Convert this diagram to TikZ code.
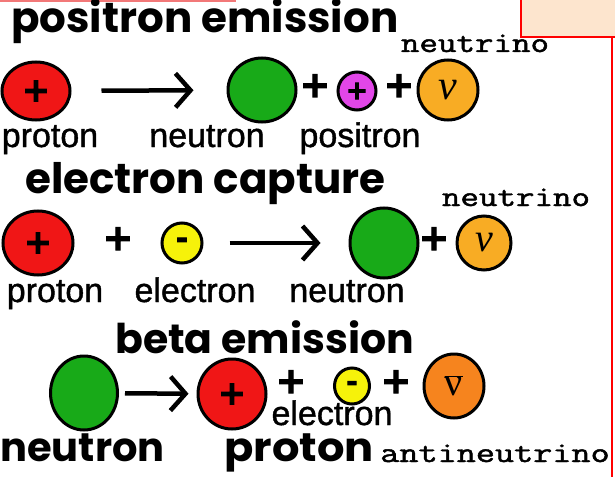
\documentclass[tikz,border=0pt]{standalone}
\usepackage{fontspec}
\setmainfont{Liberation Sans}
\newfontfamily\headfont{Poppins}
\newfontfamily\labelfont{Liberation Sans}[FakeBold=1.2]
\newfontfamily\opfont{DejaVu Sans}[FakeBold=3]
\newfontfamily\greekfont{Liberation Serif}
\newfontfamily\courierfont{Latin Modern Mono}[FakeBold=1.5]
\usetikzlibrary{shapes.geometric,arrows.meta}

\definecolor{protonred}{RGB}{240,22,22}
\definecolor{neutrongreen}{RGB}{24,170,24}
\definecolor{positronpink}{RGB}{226,70,232}
\definecolor{electronyellow}{RGB}{246,242,10}
\definecolor{nuorange}{RGB}{248,172,36}
\definecolor{antinuorange}{RGB}{246,132,30}
\definecolor{boxpeach}{RGB}{253,229,206}
\definecolor{topline}{RGB}{242,120,120}

\begin{document}
\begin{tikzpicture}[x=1pt,y=-1pt,
  particle/.style={ellipse,draw=black,line width=3pt,inner sep=0pt},
  ttl/.style={anchor=base west,inner sep=0pt,font=\headfont\bfseries\fontsize{42}{46}\selectfont},
  lbl/.style={anchor=base,inner sep=0pt,font=\labelfont\fontsize{34}{38}\selectfont},
  bigl/.style={anchor=base west,inner sep=0pt,font=\headfont\bfseries\fontsize{40}{44}\selectfont},
  mono/.style={anchor=base,inner sep=0pt,font=\courierfont\fontsize{29}{32}\selectfont},
  op/.style={inner sep=0pt,text height=14pt,text depth=0pt,font=\opfont\bfseries\fontsize{36}{36}\selectfont},
  charge/.style={font=\opfont\bfseries\fontsize{#1}{#1}\selectfont},
  reaction/.style={line width=4.5pt,-{Straight Barb[length=15pt,width=34pt,line width=4.5pt]}}]
\useasboundingbox (0,0) rectangle (615,476);

% frame bits
\draw[topline,line width=2pt] (0,1) -- (236,1);
\draw[red,fill=boxpeach,line width=1.5pt] (521,-3) rectangle (620,37);
\draw[red,line width=2pt] (612,37) -- (612,480);

% positron emission
\node[ttl] (t1) at (11,33) {positron emission};
\node[particle,fill=protonred,minimum width=68,minimum height=58,charge=33] (p1) at (36,91) {+};
\node[particle,fill=neutrongreen,minimum width=68,minimum height=64] (n1) at (262,90) {};
\node[op] (o1) at (315,90) {+};
\node[particle,fill=positronpink,minimum width=38,minimum height=38,charge=26] (ep1) at (357,91) {+};
\node[op] (o2) at (399,90) {+};
\node[particle,fill=nuorange,minimum width=60,minimum height=60] (nu1) at (448,90) {\greekfont\itshape\fontsize{42}{42}\selectfont ν};
\node[mono] (m1) at (475,52) {\scalebox{1.24}[1]{neutrino}};
\draw[reaction,shorten <=30pt,shorten >=33pt] (p1) -- (n1);
\node[lbl] (l1) at (50,147) {proton};
\node[lbl] (l2) at (207,147) {neutron};
\node[lbl] (l3) at (360,147) {positron};

% electron capture
\node[ttl] (t2) at (25,193) {electron capture};
\node[particle,fill=protonred,minimum width=70,minimum height=64,charge=33] (p2) at (38,243) {+};
\node[op] (o3) at (118,243) {+};
\node[particle,fill=electronyellow,minimum width=40,minimum height=40,charge=29] (e2) at (182,243) {-};
\node[particle,fill=neutrongreen,minimum width=68,minimum height=70] (n2) at (384,243) {};
\node[op] (o4) at (434,243) {+};
\node[particle,fill=nuorange,minimum width=54,minimum height=54] (nu2) at (484,243) {\greekfont\itshape\fontsize{40}{40}\selectfont ν};
\node[mono] (m2) at (516,206) {\scalebox{1.24}[1]{neutrino}};
\draw[reaction,shorten <=26pt,shorten >=28pt] (e2) -- (n2);
\node[lbl] (l4) at (55,302) {proton};
\node[lbl] (l5) at (195,302) {electron};
\node[lbl] (l6) at (347,302) {neutron};

% beta emission
\node[ttl,text depth=0pt] (t3) at (115,353) {\fontsize{41}{44}\selectfont beta emission};
\node[particle,fill=neutrongreen,minimum width=67,minimum height=74] (n3) at (84,393) {};
\node[particle,fill=protonred,minimum width=68,minimum height=70,charge=33] (p3) at (232,394) {+};
\node[op] (o5) at (291,386) {+};
\node[particle,fill=electronyellow,minimum width=35,minimum height=36,charge=27] (e3) at (352,386) {-};
\node[op] (o6) at (396,386) {+};
\node[particle,fill=antinuorange,minimum width=60,minimum height=64] (nu3) at (454,386) {\greekfont\fontsize{40}{40}\selectfont$\overline{\mbox{ν}}$};
\draw[reaction,shorten <=6pt,shorten >=8pt] (n3) -- (p3);
\node[lbl] (l7) at (332,425) {electron};
\node[bigl] (l8) at (0,461) {neutron};
\node[bigl] (l9) at (224,461) {\scalebox{1.08}[1]{proton}};
\node[mono] (m3) at (495,462) {\scalebox{1.28}[1]{antineutrino}};
\end{tikzpicture}
\end{document}
